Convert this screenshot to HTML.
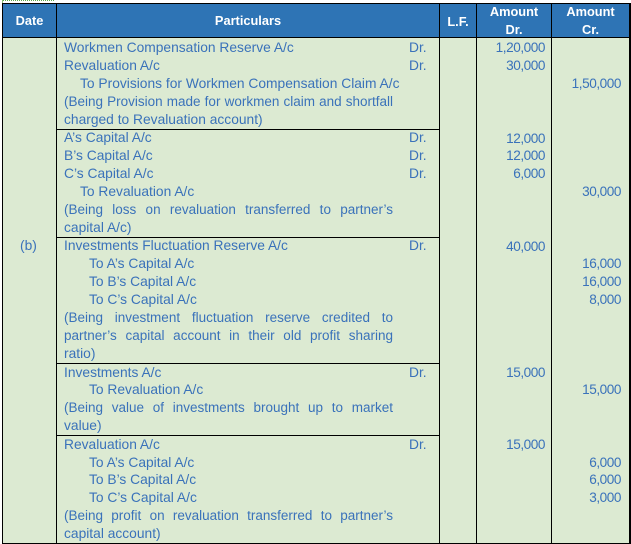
<!DOCTYPE html>
<html>
<head>
<meta charset="utf-8">
<style>
html,body{margin:0;padding:0;}
body{width:631px;height:544px;overflow:hidden;background:#fff;position:relative;font-family:"Liberation Sans",Arial,sans-serif;}
.a{position:absolute;}
.bg{left:3px;top:38px;width:626px;height:505px;background:#DCEAD2;}
.hd{left:3px;top:4px;width:626px;height:33px;background:#2E74B5;}
.h{position:absolute;height:1px;background:#000;}
.v{position:absolute;width:1px;background:#000;}
.t{position:absolute;font-size:13.8px;line-height:18px;color:#3A72BA;white-space:nowrap;}
.j{white-space:normal;width:329px;text-align:justify;text-align-last:justify;font-size:13.5px;}
.n{position:absolute;font-size:13.6px;line-height:18px;color:#3A72BA;white-space:nowrap;text-align:right;letter-spacing:-0.45px;}
.d{left:477px;width:68px;}
.c{left:552px;width:69px;}
.dr{left:409px;}
.x{position:absolute;font-weight:bold;font-size:12.8px;line-height:18px;color:#fff;text-align:center;white-space:nowrap;}
</style>
</head>
<body>
<div class="a" style="left:2px;top:0;width:52px;height:0;border-top:1px dotted #5aa84a;"></div>
<div class="a" style="left:2px;top:0;width:1px;height:3px;background:#8bbf7a;"></div>
<div class="a bg"></div>
<div class="a hd"></div>

<!-- borders -->
<div class="h" style="left:2px;top:3px;width:629px;"></div>
<div class="h" style="left:2px;top:37px;width:629px;"></div>
<div class="h" style="left:2px;top:543px;width:629px;"></div>
<div class="v" style="left:2px;top:3px;height:541px;"></div>
<div class="v" style="left:629px;top:3px;height:541px;width:2px;"></div>
<div class="v" style="left:56px;top:3px;height:541px;"></div>
<div class="v" style="left:439px;top:3px;height:541px;"></div>
<div class="v" style="left:476px;top:3px;height:541px;"></div>
<div class="v" style="left:551px;top:3px;height:541px;"></div>
<div class="h" style="left:56px;top:129px;width:384px;"></div>
<div class="h" style="left:56px;top:237px;width:384px;"></div>
<div class="h" style="left:56px;top:363px;width:384px;"></div>
<div class="h" style="left:56px;top:435px;width:384px;"></div>

<!-- header -->
<div class="x" style="left:3px;width:53px;top:11.5px;">Date</div>
<div class="x" style="left:57px;width:382px;top:11.5px;">Particulars</div>
<div class="x" style="left:440px;width:36px;top:13px;">L.F.</div>
<div class="x" style="left:477px;width:74px;top:2.8px;">Amount</div>
<div class="x" style="left:477px;width:74px;top:21px;">Dr.</div>
<div class="x" style="left:552px;width:77px;top:2.8px;">Amount</div>
<div class="x" style="left:552px;width:77px;top:21px;">Cr.</div>

<!-- Block 1 -->
<div class="t" style="left:64px;top:38.5px;">Workmen Compensation Reserve A/c</div>
<div class="t dr" style="top:38.5px;">Dr.</div>
<div class="n d" style="top:38.5px;">1,20,000</div>
<div class="t" style="left:64px;top:56.5px;">Revaluation A/c</div>
<div class="t dr" style="top:56.5px;">Dr.</div>
<div class="n d" style="top:56.5px;">30,000</div>
<div class="t" style="left:80px;top:74.5px;">To Provisions for Workmen Compensation Claim A/c</div>
<div class="n c" style="top:74.5px;">1,50,000</div>
<div class="t j" style="left:64px;top:92.5px;">(Being Provision made for workmen claim and shortfall</div>
<div class="t" style="left:64px;top:110.5px;">charged to Revaluation account)</div>

<!-- Block 2 -->
<div class="t" style="left:64px;top:129px;">A’s Capital A/c</div>
<div class="t dr" style="top:129px;">Dr.</div>
<div class="n d" style="top:129.5px;">12,000</div>
<div class="t" style="left:64px;top:147px;">B’s Capital A/c</div>
<div class="t dr" style="top:147px;">Dr.</div>
<div class="n d" style="top:147px;">12,000</div>
<div class="t" style="left:64px;top:165px;">C’s Capital A/c</div>
<div class="t dr" style="top:165px;">Dr.</div>
<div class="n d" style="top:165px;">6,000</div>
<div class="t" style="left:80px;top:183px;">To Revaluation A/c</div>
<div class="n c" style="top:183px;">30,000</div>
<div class="t j" style="left:64px;top:201px;">(Being loss on revaluation transferred to partner’s</div>
<div class="t" style="left:64px;top:219px;">capital A/c)</div>

<!-- Block 3 -->
<div class="t" style="left:20px;top:237px;">(b)</div>
<div class="t" style="left:64px;top:237px;">Investments Fluctuation Reserve A/c</div>
<div class="t dr" style="top:237px;">Dr.</div>
<div class="n d" style="top:237.5px;">40,000</div>
<div class="t" style="left:89px;top:255px;">To A’s Capital A/c</div>
<div class="n c" style="top:255px;">16,000</div>
<div class="t" style="left:89px;top:273px;">To B’s Capital A/c</div>
<div class="n c" style="top:273px;">16,000</div>
<div class="t" style="left:89px;top:291px;">To C’s Capital A/c</div>
<div class="n c" style="top:291px;">8,000</div>
<div class="t j" style="left:64px;top:309px;">(Being investment fluctuation reserve credited to</div>
<div class="t j" style="left:64px;top:327px;">partner’s capital account in their old profit sharing</div>
<div class="t" style="left:64px;top:345px;">ratio)</div>

<!-- Block 4 -->
<div class="t" style="left:64px;top:363.5px;">Investments A/c</div>
<div class="t dr" style="top:363.5px;">Dr.</div>
<div class="n d" style="top:363.8px;">15,000</div>
<div class="t" style="left:89px;top:381.3px;">To Revaluation A/c</div>
<div class="n c" style="top:381px;">15,000</div>
<div class="t j" style="left:64px;top:399.3px;">(Being value of investments brought up to market</div>
<div class="t" style="left:64px;top:417.3px;">value)</div>

<!-- Block 5 -->
<div class="t" style="left:64px;top:435.5px;">Revaluation A/c</div>
<div class="t dr" style="top:435.5px;">Dr.</div>
<div class="n d" style="top:435.8px;">15,000</div>
<div class="t" style="left:89px;top:453.5px;">To A’s Capital A/c</div>
<div class="n c" style="top:453.8px;">6,000</div>
<div class="t" style="left:89px;top:471.3px;">To B’s Capital A/c</div>
<div class="n c" style="top:471px;">6,000</div>
<div class="t" style="left:89px;top:489px;">To C’s Capital A/c</div>
<div class="n c" style="top:488.6px;">3,000</div>
<div class="t j" style="left:64px;top:507px;">(Being profit on revaluation transferred to partner’s</div>
<div class="t" style="left:64px;top:525px;">capital account)</div>
</body>
</html>
